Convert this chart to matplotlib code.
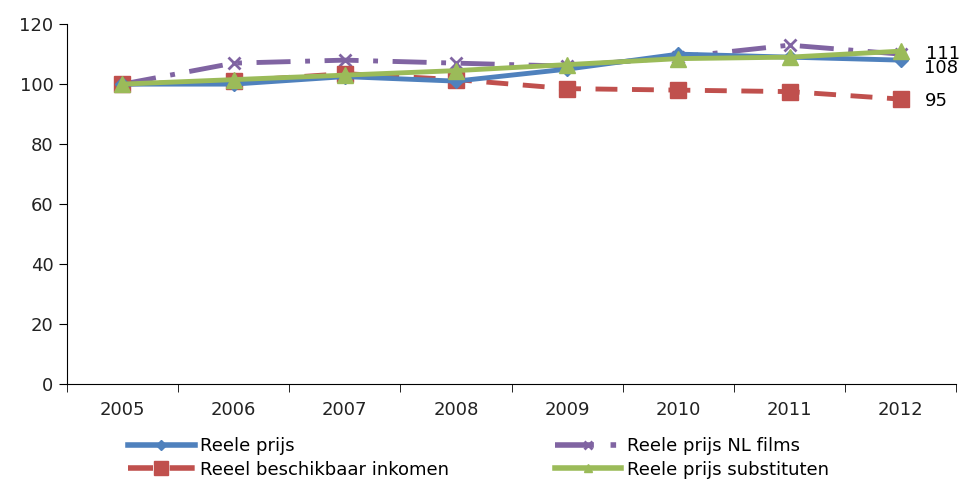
import matplotlib.pyplot as plt
import numpy as np

years = ['2005', '2006', '2007', '2008', '2009', '2010', '2011', '2012']
reele_prijs = [100, 100, 102.5, 101, 105, 110, 109, 108]
nl_films = [100, 107, 108, 107, 106, 109, 113, 110]
inkomen = [100, 101, 103.5, 101.5, 98.5, 98, 97.5, 95]
substituten = [100, 101.5, 103, 104.5, 106.5, 108.5, 109, 111]

fig = plt.figure(figsize=(9.68, 4.83), dpi=100)
ax = fig.add_axes([0.069, 0.205, 0.919, 0.745])
x = np.arange(len(years))

l1, = ax.plot(x, reele_prijs, color='#4F81BD', lw=3.5, marker='D', ms=7,
              label='Reele prijs', zorder=3)
l2, = ax.plot(x, nl_films, color='#8064A2', lw=3.5, marker='x', ms=9, mew=2,
              dashes=[7, 3, 1, 3], label='Reele prijs NL films', zorder=2)
l3, = ax.plot(x, inkomen, color='#C0504D', lw=3.5, marker='s', ms=12,
              dashes=[4.5, 3], label='Reeel beschikbaar inkomen', zorder=2)
l4, = ax.plot(x, substituten, color='#9BBB59', lw=3.5, marker='^', ms=11,
              label='Reele prijs substituten', zorder=4)

# labels at the last year
ax.annotate('111', (x[-1], substituten[-1]), xytext=(18, -2),
            textcoords='offset points', fontsize=13, va='center')
ax.annotate('108', (x[-1], reele_prijs[-1]), xytext=(17, -6),
            textcoords='offset points', fontsize=13, va='center')
ax.annotate('95', (x[-1], inkomen[-1]), xytext=(17, -1),
            textcoords='offset points', fontsize=13, va='center')

ax.set_xlim(-0.5, len(years) - 0.5)
ax.set_ylim(0, 120)
ax.set_yticks(range(0, 121, 20))
ax.set_xticks(x)
ax.set_xticklabels(years)
ax.set_xticks(np.arange(-0.5, len(years), 1), minor=True)
ax.tick_params(axis='x', which='major', length=0, pad=12, labelsize=13,
               labelcolor='#222222')
ax.tick_params(axis='x', which='minor', length=6, direction='out')
ax.tick_params(axis='y', length=6, direction='out', labelsize=13,
               labelcolor='#222222')
for s in ['top', 'right']:
    ax.spines[s].set_visible(False)

# two single-column legends so the rows line up like the original
leg_kw = dict(loc='upper left', frameon=False, fontsize=13, handlelength=3.7,
              labelspacing=0.3, handletextpad=0.3, borderaxespad=0,
              borderpad=0)
leg1 = fig.legend([l1, l3], [l1.get_label(), l3.get_label()],
                  bbox_to_anchor=(0.132, 0.095), **leg_kw)
leg2 = fig.legend([l2, l4], [l2.get_label(), l4.get_label()],
                  bbox_to_anchor=(0.573, 0.095), **leg_kw)
for leg, sizes in [(leg1, [5, 10]), (leg2, [6, 6])]:
    for h, s in zip(leg.legend_handles, sizes):
        h.set_markersize(s)
        h.set_linewidth(4)

fig.savefig('out.png', dpi=100)
